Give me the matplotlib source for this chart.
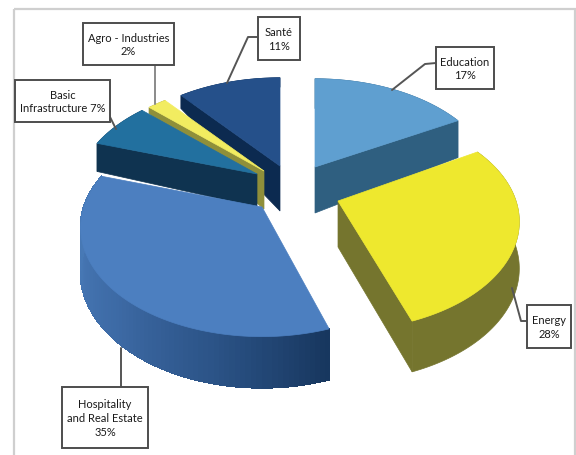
import numpy as np
import matplotlib
matplotlib.use("Agg")
import matplotlib.pyplot as plt
from matplotlib.colors import LinearSegmentedColormap
from matplotlib.patches import Polygon, Rectangle

plt.rcParams['font.family'] = ['Lato', 'DejaVu Sans']

# Data:
categories = ["Education", "Energy", "Hospitality", "Basic", "Agro", "Santé"]
shares = [17, 28, 35, 7, 2, 11]
label_texts = ["Education\n17%", "Energy\n28%", "Hospitality\nand Real Estate\n35%",
               "Basic\nInfrastructure 7%", "Agro - Industries\n2%", "Santé\n11%"]

# Look of the slices (pixel space of the 576x456 picture):
apex = {"Education": (315, 168), "Energy": (338, 202), "Hospitality": (262, 208),
        "Basic": (257, 175), "Agro": (264, 172), "Santé": (280, 167)}
depth = {"Education": 46, "Energy": 46, "Hospitality": 43, "Basic": 33, "Agro": 38, "Santé": 45}
depth_power = {"Education": 2.5, "Energy": 0.5, "Hospitality": 0.8, "Basic": 2.8, "Agro": 15, "Santé": 9}
angle_shift = {"Education": 0, "Energy": -2, "Hospitality": 0, "Basic": 0, "Agro": 0, "Santé": 0}
top_colors = {"Education": "#5f9fd0", "Energy": "#eee82e", "Hospitality": "#4c7fc0",
              "Basic": "#22709f", "Agro": "#f2ec60", "Santé": "#25508a"}
wall_colors = {"Education": "#2f5f80", "Energy": "#75752e", "Hospitality": "#17375f",
               "Basic": "#0f3350", "Agro": "#8f8f3a", "Santé": "#0c2a50"}
hospitality_wall = LinearSegmentedColormap.from_list("wall", ["#17375f", "#2c5488", "#3d6aa5", "#4677b4", "#4a7cb8"])
draw_order = ["Santé", "Agro", "Basic", "Education", "Hospitality", "Energy"]

label_boxes = {"Education": (436, 48, 494, 90), "Energy": (527, 306, 571, 349),
               "Hospitality": (62, 388, 148, 449), "Basic": (15, 81, 110, 123),
               "Agro": (83, 24, 174, 66), "Santé": (258, 18, 300, 61)}
leaders = {"Education": ([436, 425, 392], [64, 65, 91]), "Energy": ([527, 521, 512], [322, 322, 289]),
           "Hospitality": ([121, 121], [388, 349]), "Basic": ([110, 116], [118, 130]),
           "Agro": ([155, 155], [66, 105]), "Santé": ([258, 248, 227], [38, 38, 84])}

A, B, K = 178, 105, 0.19


def project(name, theta):
    # Perspective of one point on the rim, with its drop to the bottom face:
    s = 1 / (1 + K * np.cos(theta))
    x = apex[name][0] + A * np.sin(theta) * s
    y = apex[name][1] - B * np.cos(theta) * s
    return x, y, depth[name] * s ** depth_power[name]


fig = plt.figure(figsize=(5.76, 4.56), dpi=100)
ax = fig.add_axes([0, 0, 1, 1])
ax.set_xlim(0, 576)
ax.set_ylim(456, 0)
ax.axis("off")

# Chart frame:
ax.add_patch(Rectangle((14, 10), 561, 460, fill=False, ec="#cfcfcf", lw=1.6))

# Start and end angles of each slice:
edges = np.cumsum([0] + shares) / sum(shares) * 2 * np.pi
angles = {name: (edges[i] + np.radians(angle_shift[name]), edges[i + 1] + np.radians(angle_shift[name]))
          for i, name in enumerate(categories)}

for name in draw_order:
    start, end = angles[name]
    ts = np.linspace(start, end, 90)
    ax_, ay_ = apex[name]
    rim = [project(name, t) for t in ts]
    # Radial faces that look to the viewer:
    for theta, visible in [(start, np.sin(start) < -1e-6), (end, np.sin(end) > 1e-6)]:
        if visible:
            x, y, d = project(name, theta)
            ax.add_patch(Polygon([(ax_, ay_), (x, y), (x, y + d), (ax_, ay_ + depth[name])],
                                 fc=wall_colors[name], ec=wall_colors[name], lw=0.5))
    # Outer wall, in thin strips where it has a gradient:
    if name == "Hospitality":
        for i in range(len(ts) - 1):
            x0, y0, d0 = rim[i]
            x1, y1, d1 = rim[i + 1]
            color = hospitality_wall(i / (len(ts) - 2))
            ax.add_patch(Polygon([(x0, y0), (x1, y1), (x1, y1 + d1), (x0, y0 + d0)], fc=color, ec=color,
                                 lw=1.0, antialiased=False))
    else:
        outline = [(p[0], p[1]) for p in rim] + [(p[0], p[1] + p[2]) for p in rim[::-1]]
        ax.add_patch(Polygon(outline, fc=wall_colors[name], ec=wall_colors[name], lw=0.5))
    # Top face:
    ax.add_patch(Polygon([(ax_, ay_)] + [(p[0], p[1]) for p in rim], fc=top_colors[name],
                         ec=top_colors[name], lw=0.5))

# Callouts:
for name, text in zip(categories, label_texts):
    lx, ly = leaders[name]
    line_color = "#8a8a8a" if name == "Agro" else "#555555"
    ax.plot(lx, ly, color=line_color, lw=1.4, solid_capstyle="round")
    x0, y0, x1, y1 = label_boxes[name]
    ax.add_patch(Rectangle((x0, y0), x1 - x0, y1 - y0, fc="white", ec="#4d4d4d", lw=1.4, zorder=3))
    ax.text((x0 + x1) / 2, (y0 + y1) / 2, text, ha="center", va="center", fontsize=8, color="#1a1a1a",
            linespacing=1.3, zorder=4)

fig.savefig("out.png", dpi=100)
